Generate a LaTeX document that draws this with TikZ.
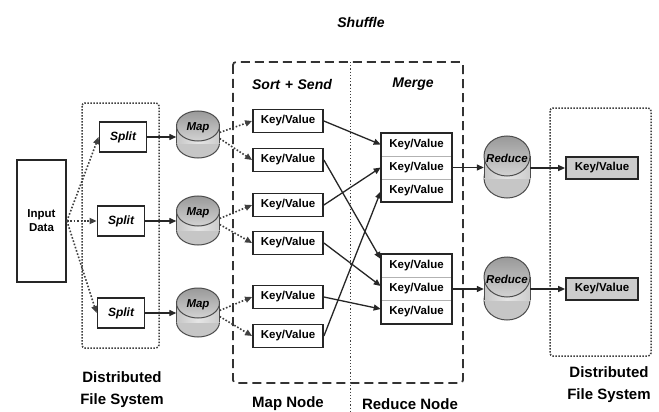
\documentclass[tikz,border=0pt]{standalone}
\usepackage{fontspec}
\setmainfont{Liberation Sans}
\usetikzlibrary{arrows.meta}
\newcommand\drum[7]{% name, cx, top, rx, ry, height, text
  \draw[line width=1pt, black!70, fill=gray!45] (#2,#3+#6-#5) ellipse [x radius=#4, y radius=#5];
  \fill[left color=gray!45, right color=gray!40, middle color=gray!20] (#2-#4,#3+#5) rectangle (#2+#4,#3+#6-#5);
  \draw[line width=1pt, black!70] (#2-#4,#3+#5) -- (#2-#4,#3+#6-#5) (#2+#4,#3+#5) -- (#2+#4,#3+#6-#5);
  \draw[line width=1pt, black!70, top color=gray!80, bottom color=gray!35] (#2,#3+#5) ellipse [x radius=#4, y radius=#5];
  \node[inner sep=0pt, minimum width=2*#4, minimum height=#6] (#1) at (#2,#3+#6/2) {};
  \node[drumtext] (#1t) at (#2,#3+#5+2) {#7};
}
\begin{document}
\begin{tikzpicture}[x=1pt,y=-1pt,
  kv/.style={draw=black!85, line width=1.8pt, fill=white, inner sep=0pt, minimum width=70pt, minimum height=23pt, font=\bfseries\fontsize{11.5}{12}\selectfont},
  outkv/.style={kv, fill=gray!40, minimum width=72pt, minimum height=22pt},
  mrow/.style={draw=gray!60, line width=0.6pt, fill=white, inner sep=0pt, minimum width=71pt, minimum height=23pt, font=\bfseries\fontsize{11.5}{12}\selectfont},
  mframe/.style={draw=black!85, line width=1.8pt},
  splitbox/.style={draw=black!85, line width=1.8pt, fill=white, inner sep=0pt, minimum width=47pt, minimum height=30pt, font=\bfseries\itshape\fontsize{12}{12}\selectfont},
  inbox/.style={draw=black!85, line width=1.8pt, fill=white, inner sep=0pt, minimum width=49pt, minimum height=122pt, align=center, font=\bfseries\fontsize{11.5}{14}\selectfont},
  drumtext/.style={inner sep=0pt, font=\bfseries\itshape\fontsize{11.5}{12}\selectfont},
  head/.style={inner sep=0pt, font=\bfseries\itshape\fontsize{14}{16}\selectfont},
  lbl/.style={inner sep=0pt, align=center, font=\bfseries\fontsize{15}{22}\selectfont},
  arr/.style={line width=1.3pt, black!85, -{Triangle[length=7pt,width=6pt]}},
  dotarr/.style={line width=1.6pt, black!75, dash pattern=on 1.6pt off 1.8pt, -{Triangle[length=7pt,width=6pt]}},
  dfs/.style={line width=1.5pt, black!75, dash pattern=on 1.5pt off 1.5pt, rounded corners=3pt},
  bigdash/.style={line width=1.8pt, black!80, dash pattern=on 9pt off 5pt, rounded corners=3pt},
  vdot/.style={line width=1pt, black!75, dash pattern=on 1.2pt off 2pt}
]
\useasboundingbox (0,0) rectangle (659,412);
\fill[white] (0,0) rectangle (659,412);

% frames
\draw[bigdash] (233,62) rectangle (463,383);
\draw[vdot] (350,62) -- (350,412);
\draw[dfs] (82,103) rectangle (159,348);
\draw[dfs] (550,108) rectangle (651,356);

% headings
\node[head] (shuffle) at (361,22) {Shuffle};
\node[head] (sortsend) at (292,84) {Sort\,\,+\,\,Send};
\node[head] (merge) at (413,84) {Merge};

% input and splits
\node[inbox] (in) at (41.5,221) {Input\\Data};
\node[splitbox] (s1) at (123,137) {Split};
\node[splitbox] (s2) at (121,221) {Split};
\node[splitbox] (s3) at (121,313) {Split};

% map drums
\drum{m1}{198}{111}{21.5}{15}{47}{Map}
\drum{m2}{198}{196}{21.5}{15}{49}{Map}
\drum{m3}{198}{288}{21.5}{15}{49}{Map}

% map-side key/value
\node[kv] (k1) at (288,121) {Key/Value};
\node[kv] (k2) at (288,160) {Key/Value};
\node[kv] (k3) at (288,205) {Key/Value};
\node[kv] (k4) at (288,243) {Key/Value};
\node[kv] (k5) at (288,297) {Key/Value};
\node[kv] (k6) at (288,336) {Key/Value};

% merge groups
\node[mrow] (a1) at (416.5,144.5) {Key/Value};
\node[mrow] (a2) at (416.5,167.5) {Key/Value};
\node[mrow] (a3) at (416.5,190.5) {Key/Value};
\draw[mframe] (a1.north west) rectangle (a3.south east);
\node[mrow] (b1) at (416.5,266) {Key/Value};
\node[mrow] (b2) at (416.5,289) {Key/Value};
\node[mrow] (b3) at (416.5,312) {Key/Value};
\draw[mframe] (b1.north west) rectangle (b3.south east);

% reduce drums
\drum{r1}{507}{136}{23}{20}{62}{Reduce}
\drum{r2}{507}{257}{23}{20}{63}{Reduce}

% outputs
\node[outkv] (o1) at (602,168) {Key/Value};
\node[outkv] (o2) at (602,289) {Key/Value};

% connectors
\draw[dotarr] (in.east) -- (s1.west);
\draw[dotarr] (in.east) -- (s2.west);
\draw[dotarr] (in.east) -- (s3.west);
\draw[arr] (s1.east) -- (s1.east -| m1.west);
\draw[arr] (s2.east) -- (s2.east -| m2.west);
\draw[arr] (s3.east) -- (s3.east -| m3.west);
\draw[dotarr] ([yshift=2pt]m1.east) -- (k1.west);
\draw[dotarr] ([yshift=-4pt]m1.east) -- (k2.west);
\draw[dotarr] ([yshift=2pt]m2.east) -- (k3.west);
\draw[dotarr] ([yshift=-4pt]m2.east) -- (k4.west);
\draw[dotarr] ([yshift=2pt]m3.east) -- (k5.west);
\draw[dotarr] ([yshift=-4pt]m3.east) -- (k6.west);
\draw[arr] (k1.east) -- (a1.west);
\draw[arr] (k2.east) -- ([yshift=7pt]b1.west);
\draw[arr] (k3.east) -- (a2.west);
\draw[arr] (k4.east) -- ([yshift=3pt]b2.west);
\draw[arr] (k5.east) -- ([yshift=3pt]b3.west);
\draw[arr] (k6.east) -- ([yshift=-1pt]a3.west);
\draw[arr] (a2.east) -- (a2.east -| r1.west);
\draw[arr] (b2.east) -- (b2.east -| r2.west);
\draw[arr] (r1.east |- o1.west) -- (o1.west);
\draw[arr] (r2.east |- o2.west) -- (o2.west);

% labels
\node[lbl] (dfsl) at (122,390) {Distributed\\File System};
\node[lbl] (dfsr) at (609,385) {Distributed\\File System};
\node[lbl] (mapnode) at (288,404) {Map Node};
\node[lbl] (rednode) at (410,404) {Reduce Node};
\end{tikzpicture}
\end{document}
